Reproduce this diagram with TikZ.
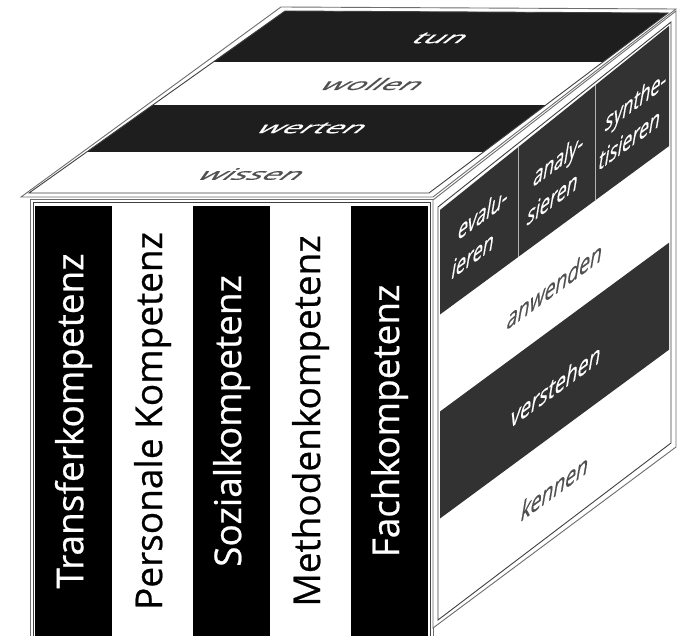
\documentclass[tikz,border=0pt]{standalone}
\usepackage{fontspec}
\setmainfont{Open Sans}
\newfontfamily\cubefont{Open Sans}[FakeBold=0.6]
\usetikzlibrary{positioning}
\definecolor{topblack}{RGB}{30,30,30}
\definecolor{sidedark}{RGB}{50,50,50}
\definecolor{rimgray}{RGB}{110,110,110}
\definecolor{inkgray}{RGB}{80,80,80}

\begin{document}
\begin{tikzpicture}[
    x=1pt, y=-1pt,
    rim/.style={draw=rimgray, line width=0.9pt},
    innerrim/.style={draw=black!75, line width=0.9pt},
    band/.style={rectangle, rotate=90, minimum width=430pt, minimum height=#1, inner sep=0pt, font=\cubefont\fontsize{37}{37}\selectfont},
    toplbl/.style={transform shape, cm={1.6,0,1.0,0.8,(0,0)}, font=\cubefont\fontsize{20}{20}\selectfont},
    sidelbl/.style={transform shape, cm={0.805,0.593,0.2,1.2,(0,0)}, font=\cubefont\fontsize{24}{34}\selectfont, align=left},
    colhead/.style={sidelbl, font=\cubefont\fontsize{22}{31}\selectfont, cm={1,0,0,1.05,(0,0)}}
]
\useasboundingbox (0,0) rectangle (677,636);
\clip (0,0) rectangle (677,636);
\fill[white] (0,0) rectangle (677,636);

% front face
\fill[white] (30,199) rectangle (433,650);
\node[band=77pt, fill=black, text=white] (transfer) at (73.5,421) {Transferkompetenz};
\node[band=81pt, fill=white, text=black] (personal) at (152.5,421) {Personale Kompetenz};
\node[band=77pt, fill=black, text=white] (sozial) at (231.5,421) {Sozialkompetenz};
\node[band=81pt, fill=white, text=black] (methoden) at (310.5,421) {Methodenkompetenz};
\node[band=77pt, fill=black, text=white] (fach) at (389.5,421) {Fachkompetenz};
\draw[innerrim] (33,202) rectangle (430,650);
\draw[rim] (30,199) rectangle (433,650);

% top face
\fill[white] (21,197) -- (433,197) -- (676,9) -- (281,7) -- cycle;
\begin{scope}
  \clip (29,193) -- (429,193) -- (668,13) -- (285,11) -- cycle;
  \fill[topblack] (0,11) rectangle (677,62);
  \fill[topblack] (0,105) rectangle (677,152);
\end{scope}
\draw[innerrim] (29,193) -- (429,193) -- (668,13) -- (285,11) -- cycle;
\draw[rim] (21,197) -- (433,197) -- (676,9) -- (281,7) -- cycle;
\node[toplbl, text=white] (tun) at (441,38) {tun};
\node[toplbl, text=inkgray] (wollen) at (374,84) {wollen};
\node[toplbl, text=white] (werten) at (313,128) {werten};
\node[toplbl, text=inkgray] (wissen) at (253,174) {wissen};

% right face
\fill[white] (433,200) -- (676,11) -- (676,447) -- (433,628) -- cycle;
\begin{scope}
  \clip (440,210) -- (669,26) -- (669,441) -- (440,617) -- cycle;
  \fill[sidedark] (440,0) -- (680,0) -- (680,138) -- (440,314.5) -- cycle;
  \fill[sidedark] (440,411.5) -- (680,234.6) -- (680,341.6) -- (440,518.5) -- cycle;
  \draw[gray!60, line width=0.8pt] (518,0) -- (518,257);
  \draw[gray!60, line width=0.8pt] (595,0) -- (595,200);
\end{scope}
\draw[innerrim] (438,207) -- (671,22) -- (671,443) -- (438,620) -- cycle;
\draw[rim] (433,200) -- (676,11) -- (676,447) -- (433,628) -- cycle;
\node[colhead, text=white] (evalu) at (480,232) {evalu-\\ieren};
\node[colhead, text=white] (analy) at (556,178) {analy-\\sieren};
\node[colhead, text=white] (synthe) at (633,119) {synthe-\\tisieren};
\node[sidelbl, text=inkgray] (anwenden) at (555,285) {anwenden};
\node[sidelbl, text=white] (verstehen) at (556,385) {verstehen};
\node[sidelbl, text=inkgray] (kennen) at (555,487) {kennen};
\end{tikzpicture}
\end{document}
